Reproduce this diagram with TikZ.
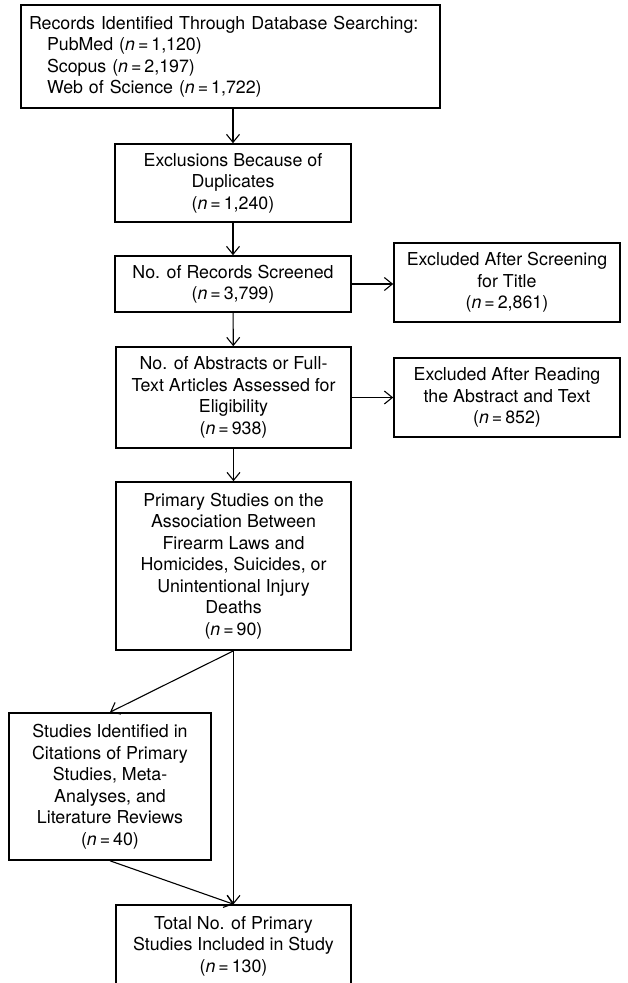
\documentclass[tikz,border=0pt]{standalone}
\usepackage{fontspec}
\setmainfont{TeX Gyre Heros}
\usetikzlibrary{arrows.meta}
\tikzset{
  box/.style={draw,line width=1.6pt,align=center,inner sep=0pt,font=\fontsize{17.8}{21.5}\selectfont},
  arr/.style={line width=1.1pt,-{Straight Barb[length=8pt,width=13pt,line width=1.1pt]}}
}
\newcommand{\nval}[1]{(\textit{n}\,=\,#1)}

\begin{document}
\begin{tikzpicture}[x=1pt,y=-1pt]
\useasboundingbox (0,0) rectangle (628,983);
%Search
\node[box,align=left,text width=403pt,inner xsep=8pt,minimum height=103] (rec) at (230.5,56.5)
  {Records Identified Through Database Searching:\\
   \hspace*{18pt}PubMed \nval{1,120}\\
   \hspace*{18pt}Scopus \nval{2,197}\\
   \hspace*{18pt}Web of Science \nval{1,722}};
%Main column
\node[box,minimum width=236,minimum height=78] (dup) at (233,183) {Exclusions Because of\\Duplicates\\\nval{1,240}};
\node[box,minimum width=236,minimum height=56] (scr) at (233,284) {No. of Records Screened\\\nval{3,799}};
\node[box,minimum width=235,minimum height=101] (abs) at (233.5,397.5) {No. of Abstracts or Full-\\Text Articles Assessed for\\Eligibility\\\nval{938}};
\node[box,minimum width=235,minimum height=168] (prim) at (233.5,566) {Primary Studies on the\\Association Between\\Firearm Laws and\\Homicides, Suicides, or\\Unintentional Injury\\Deaths\\\nval{90}};
\node[box,minimum width=235,minimum height=82] (tot) at (233.5,946) {Total No. of Primary\\Studies Included in Study\\\nval{130}};
%Exclusions
\node[box,minimum width=226,minimum height=79] (exT) at (507,282.5) {Excluded After Screening\\for Title\\\nval{2,861}};
\node[box,minimum width=226,minimum height=79] (exA) at (507,397.5) {Excluded After Reading\\the Abstract and Text\\\nval{852}};
%Citations
\node[box,minimum width=202,minimum height=147] (cit) at (110,786.5) {Studies Identified in\\Citations of Primary\\Studies, Meta-\\Analyses, and\\Literature Reviews\\\nval{40}};

%Arrows
\draw[arr] (rec.south -| dup.north) -- (dup.north);
\draw[arr] (dup) -- (scr);
\draw[arr] (scr) -- (abs);
\draw[arr] (abs) -- (prim);
\draw[arr] (scr.east) -- (scr.east -| exT.west);
\draw[arr] (abs.east) -- (exA.west);
\draw[arr] (prim.south) -- (cit.north);
\draw[arr] (prim.south) -- (tot.north);
\draw[arr] (cit.south) -- (tot.north);
\end{tikzpicture}
\end{document}
